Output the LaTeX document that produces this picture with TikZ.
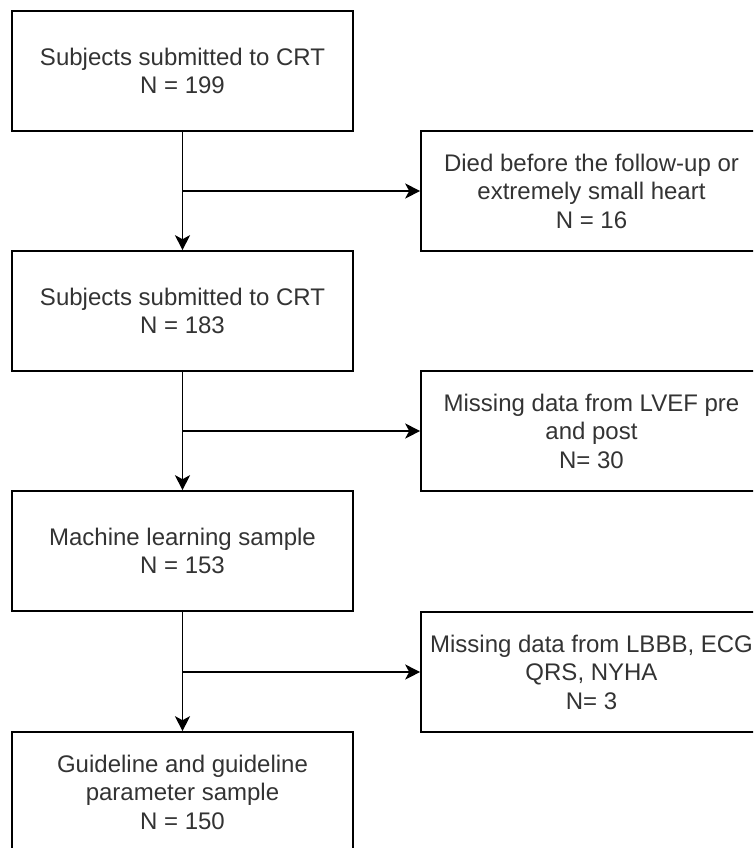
\documentclass[tikz,border=0pt]{standalone}
\usepackage{fontspec}
\setmainfont{Liberation Sans}
\usetikzlibrary{arrows.meta}
\definecolor{txt}{HTML}{333333}
\tikzset{
  box/.style={draw=black, line width=1.6pt, minimum width=341pt, minimum height=120pt,
    inner sep=0pt, align=center, text=txt, font=\fontsize{24}{28.5}\selectfont},
  arr/.style={draw=black, line width=1.6pt, -{Stealth[length=15pt,width=15pt,inset=4pt]}}
}
\begin{document}
\begin{tikzpicture}[x=1pt,y=-1pt]
\useasboundingbox (0,0) rectangle (753,848);
\clip (0,0) rectangle (753,848);
\node[box] (b1) at (182.5,71) {Subjects submitted to CRT\\N = 199};
\node[box] (b2) at (182.5,311) {Subjects submitted to CRT\\N = 183};
\node[box] (b3) at (182.5,551) {Machine learning sample\\N = 153};
\node[box] (b4) at (182.5,792) {Guideline and guideline\\parameter sample\\N = 150};
\node[box] (r1) at (591.5,191) {Died before the follow-up or\\extremely small heart\\N = 16};
\node[box] (r2) at (591.5,431) {Missing data from LVEF pre\\and post\\N= 30};
\node[box] (r3) at (591.5,672) {Missing data from LBBB, ECG\\QRS, NYHA\\N= 3};
\draw[arr] (b1) -- (b2);
\draw[arr] (b2) -- (b3);
\draw[arr] (b3) -- (b4);
\coordinate (j1) at (b1.south |- r1.west);
\coordinate (j2) at (b2.south |- r2.west);
\coordinate (j3) at (b3.south |- r3.west);
\draw[arr] (j1) -- (r1.west);
\draw[arr] (j2) -- (r2.west);
\draw[arr] (j3) -- (r3.west);
\end{tikzpicture}
\end{document}
